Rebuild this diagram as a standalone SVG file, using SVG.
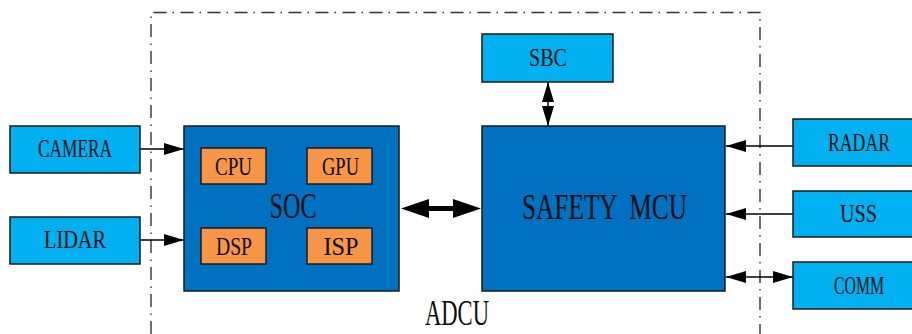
<svg xmlns="http://www.w3.org/2000/svg" width="912" height="334" viewBox="0 0 912 334">
<style>
.ext{fill:#00B0F0;stroke:#1a1a1a;stroke-width:1.5}
.big{fill:#0070C0;stroke:#1a1a1a;stroke-width:1.5}
.sub{fill:#F79646;stroke:#1a1a1a;stroke-width:1.5}
text{font-family:"Liberation Serif","DejaVu Serif",serif;fill:#0d0d0d;text-anchor:middle}
.t24{font-size:26px}
.t33{font-size:35px}
.wire{stroke:#000;stroke-width:1.4;fill:none}
.frame{stroke:#333;stroke-width:1.4;fill:none;stroke-dasharray:13 6 1.5 6.5}
</style>
<defs>
<marker id="ah" viewBox="0 0 20 12" refX="20" refY="6" markerWidth="20" markerHeight="12" markerUnits="userSpaceOnUse" orient="auto-start-reverse">
<path d="M0,0 L20,6 L0,12 Z" fill="#000"/>
</marker>
</defs>
<g id="frame">
<path class="frame" d="M151,334 V12.5 H760 V334"/>
</g>
<g id="connectors">
<line class="wire" x1="140" y1="149" x2="184" y2="149" marker-end="url(#ah)"/>
<line class="wire" x1="140" y1="240" x2="184" y2="240" marker-end="url(#ah)"/>
<line class="wire" x1="793" y1="146" x2="726" y2="146" marker-end="url(#ah)"/>
<line class="wire" x1="793" y1="214" x2="726" y2="214" marker-end="url(#ah)"/>
<line class="wire" x1="726" y1="277" x2="793" y2="277" marker-start="url(#ah)" marker-end="url(#ah)"/>
<line class="wire" x1="548" y1="82" x2="548" y2="126" marker-start="url(#ah)" marker-end="url(#ah)"/>
<path d="M401,208.5 L429,199 L429,206 L453,206 L453,199 L481,208.5 L453,218 L453,211 L429,211 L429,218 Z" fill="#000"/>
</g>
<g id="camera">
<rect class="ext" x="10" y="126" width="130" height="47"/>
<text class="t24" x="75" y="157" textLength="74" lengthAdjust="spacingAndGlyphs">CAMERA</text>
</g>
<g id="lidar">
<rect class="ext" x="10" y="217" width="130" height="47"/>
<text class="t24" x="75" y="248" textLength="62" lengthAdjust="spacingAndGlyphs">LIDAR</text>
</g>
<g id="soc">
<rect class="big" x="184" y="126" width="215" height="165"/>
<text class="t33" x="293" y="218" textLength="47" lengthAdjust="spacingAndGlyphs">SOC</text>
</g>
<g id="cpu">
<rect class="sub" x="201" y="148" width="65" height="36"/>
<text class="t24" x="233.5" y="175" textLength="37" lengthAdjust="spacingAndGlyphs">CPU</text>
</g>
<g id="gpu">
<rect class="sub" x="307" y="148" width="65" height="36"/>
<text class="t24" x="340.5" y="175" textLength="37" lengthAdjust="spacingAndGlyphs">GPU</text>
</g>
<g id="dsp">
<rect class="sub" x="201" y="228" width="65" height="36"/>
<text class="t24" x="234" y="255" textLength="36" lengthAdjust="spacingAndGlyphs">DSP</text>
</g>
<g id="isp">
<rect class="sub" x="307" y="228" width="65" height="36"/>
<text class="t24" x="341" y="255" textLength="35" lengthAdjust="spacingAndGlyphs">ISP</text>
</g>
<g id="sbc">
<rect class="ext" x="482" y="34" width="131" height="48"/>
<text class="t24" x="548" y="66" textLength="38" lengthAdjust="spacingAndGlyphs">SBC</text>
</g>
<g id="safety-mcu">
<rect class="big" x="482" y="126" width="243" height="165"/>
<text class="t33" x="604.5" y="219" xml:space="preserve" textLength="165" lengthAdjust="spacingAndGlyphs">SAFETY  MCU</text>
</g>
<g id="radar">
<rect class="ext" x="793" y="119" width="120" height="47"/>
<text class="t24" x="859" y="151" textLength="62" lengthAdjust="spacingAndGlyphs">RADAR</text>
</g>
<g id="uss">
<rect class="ext" x="793" y="191" width="120" height="46"/>
<text class="t24" x="858.5" y="222" textLength="37" lengthAdjust="spacingAndGlyphs">USS</text>
</g>
<g id="comm">
<rect class="ext" x="793" y="262" width="120" height="47"/>
<text class="t24" x="859" y="294" textLength="50" lengthAdjust="spacingAndGlyphs">COMM</text>
</g>
<g id="adcu">
<text class="t33" x="457" y="325" textLength="64" lengthAdjust="spacingAndGlyphs">ADCU</text>
</g>
</svg>
